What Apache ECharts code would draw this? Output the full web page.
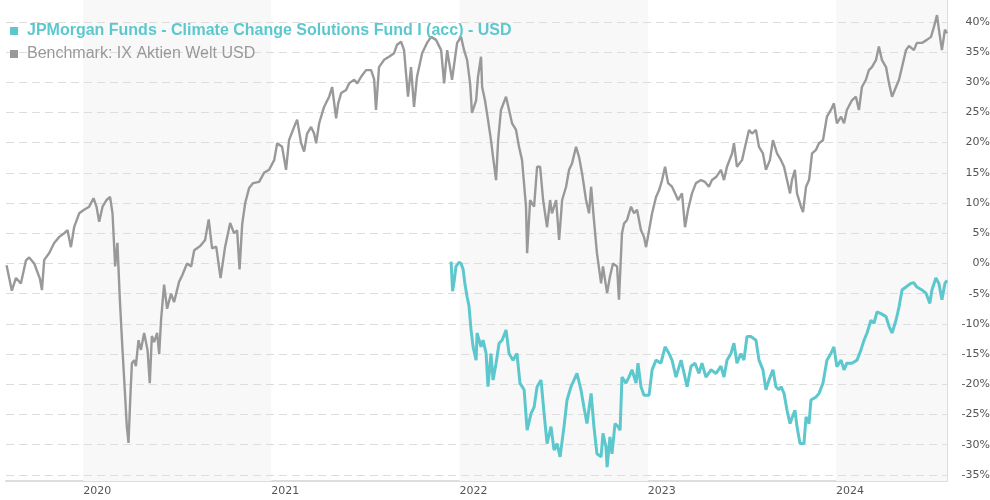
<!DOCTYPE html>
<html><head><meta charset="utf-8">
<script src="https://cdn.jsdelivr.net/npm/echarts@6/dist/echarts.min.js"></script>
<style>html,body{margin:0;padding:0;background:#fff}#c{width:990px;height:500px}</style>
</head><body><div id="c"></div><script>
const fundName = 'JPMorgan Funds - Climate Change Solutions Fund I (acc) - USD';
const benchName = 'Benchmark: IX Aktien Welt USD';

// time as decimal years, values in %
const benchTime = [2019.593,2019.621,2019.643,2019.669,2019.696,2019.713,2019.740,2019.770,2019.781,2019.793,2019.819,2019.846,2019.873,2019.899,2019.917,2019.935,2019.952,2019.979,2020.005,2020.032,2020.055,2020.071,2020.085,2020.103,2020.124,2020.143,2020.156,2020.170,2020.182,2020.195,2020.209,2020.222,2020.232,2020.241,2020.250,2020.259,2020.271,2020.280,2020.294,2020.307,2020.324,2020.342,2020.354,2020.365,2020.377,2020.393,2020.404,2020.414,2020.430,2020.446,2020.467,2020.483,2020.510,2020.526,2020.552,2020.574,2020.590,2020.622,2020.648,2020.667,2020.685,2020.707,2020.730,2020.754,2020.781,2020.802,2020.818,2020.831,2020.845,2020.861,2020.882,2020.903,2020.935,2020.961,2020.988,2021.015,2021.031,2021.057,2021.078,2021.094,2021.121,2021.137,2021.158,2021.174,2021.190,2021.211,2021.227,2021.238,2021.254,2021.280,2021.307,2021.323,2021.344,2021.355,2021.371,2021.397,2021.413,2021.440,2021.456,2021.477,2021.503,2021.530,2021.546,2021.556,2021.572,2021.599,2021.625,2021.652,2021.668,2021.689,2021.705,2021.726,2021.742,2021.758,2021.774,2021.801,2021.827,2021.849,2021.875,2021.902,2021.918,2021.934,2021.960,2021.987,2022.008,2022.024,2022.040,2022.056,2022.066,2022.088,2022.098,2022.114,2022.120,2022.135,2022.151,2022.167,2022.178,2022.194,2022.205,2022.220,2022.247,2022.263,2022.279,2022.300,2022.316,2022.332,2022.353,2022.359,2022.375,2022.396,2022.412,2022.428,2022.444,2022.465,2022.481,2022.491,2022.513,2022.529,2022.545,2022.566,2022.582,2022.598,2022.619,2022.635,2022.651,2022.672,2022.688,2022.699,2022.714,2022.730,2022.752,2022.762,2022.784,2022.799,2022.815,2022.837,2022.847,2022.863,2022.874,2022.890,2022.911,2022.927,2022.943,2022.964,2022.980,2022.991,2023.007,2023.023,2023.044,2023.060,2023.076,2023.092,2023.108,2023.129,2023.145,2023.161,2023.182,2023.198,2023.214,2023.235,2023.256,2023.283,2023.304,2023.325,2023.341,2023.363,2023.389,2023.405,2023.421,2023.448,2023.458,2023.474,2023.501,2023.517,2023.538,2023.554,2023.575,2023.591,2023.612,2023.628,2023.649,2023.665,2023.687,2023.708,2023.724,2023.740,2023.756,2023.766,2023.782,2023.793,2023.814,2023.825,2023.841,2023.857,2023.873,2023.894,2023.910,2023.931,2023.952,2023.973,2023.989,2024.005,2024.027,2024.043,2024.058,2024.085,2024.106,2024.122,2024.138,2024.159,2024.175,2024.191,2024.213,2024.228,2024.244,2024.266,2024.282,2024.298,2024.319,2024.335,2024.351,2024.372,2024.388,2024.414,2024.430,2024.457,2024.483,2024.505,2024.521,2024.537,2024.547,2024.563,2024.579,2024.590];
const benchValue = [-0.3,-4.5,-2.4,-3.3,0.5,1.0,0,-2.5,-4.4,0.6,1.7,3.4,4.4,5.0,5.5,2.7,6.0,8.3,8.9,9.4,10.8,9.4,6.9,9.4,10.5,11.0,8.3,-0.5,3.4,-6,-14.3,-21.4,-27,-29.7,-22.6,-16.5,-16,-17,-12.7,-14.3,-11.5,-14.3,-19.8,-12,-13,-11.5,-15,-9.3,-3.5,-7.5,-5,-6.4,-3,-2,0,-0.5,2.2,2.9,3.9,7.3,2.5,2.8,-2.4,2.7,6.7,5,5.5,-1,6.5,10,12.5,13.3,13.5,15,15.5,17.1,19.9,19.3,15.5,20.4,22.6,23.8,19.9,18.5,21.5,22.6,21.5,19.9,23.2,25.9,27.6,29.2,24,26.5,28.2,28.7,29.8,30.4,29.8,30.9,32,32,30.5,25.4,32.5,33.7,34.2,34.8,36.2,36.7,35.3,27.6,32.5,25.9,30.9,34.8,36.5,37.5,37,35.3,29.8,35.3,30.4,36.5,37.5,35.3,33.7,29.8,24.9,27,30.9,34.2,29.2,27,23.8,20.4,17.6,13.8,20.4,25.4,27.6,25.4,23.2,22.1,19.3,17.1,9.4,1.7,10.5,9.4,16,16,10.5,6,10.5,8.3,10.5,3.9,10.5,12.7,15.5,16.6,19.3,17.6,14.9,10.5,8.3,12.7,7.2,1.7,-3.3,-0.5,-4.9,-2.2,0,-0.5,-6,5,6.6,7.2,9.4,8.3,8.9,5.5,4.4,2.7,5.5,8.3,11,12.1,13.8,16,13.3,12.7,11.6,10.5,11.6,6,8.9,11.6,13.3,13.8,13.5,12.7,13.8,14.3,15.5,13.8,16,18.2,19.9,16,17.1,19.3,22.1,21.5,22.1,19.3,18.2,15.5,17.1,20.4,18.2,17.1,16,13.8,11.6,13.8,15.5,11.6,9.4,8.5,12.7,13.8,18.2,18.8,19.9,20.4,24.3,25.4,26.5,23.2,24.3,23.2,25.4,27,27.6,25.4,29.2,30.4,32,32.5,33.7,35.9,33.7,32.5,29.8,27.6,29.2,30.4,32.5,35.3,36,35.3,36.5,36.5,37,37.5,39.2,41.1,38.7,35.3,38.7,38.1];

const fundTime = [2021.955,2021.963,2021.971,2021.981,2021.997,2022.008,2022.019,2022.029,2022.040,2022.050,2022.061,2022.072,2022.088,2022.093,2022.114,2022.125,2022.141,2022.151,2022.167,2022.178,2022.194,2022.210,2022.226,2022.247,2022.263,2022.284,2022.305,2022.321,2022.343,2022.359,2022.380,2022.396,2022.412,2022.433,2022.449,2022.465,2022.486,2022.502,2022.518,2022.534,2022.555,2022.571,2022.592,2022.608,2022.624,2022.645,2022.661,2022.677,2022.699,2022.714,2022.730,2022.752,2022.762,2022.778,2022.784,2022.799,2022.810,2022.826,2022.842,2022.853,2022.863,2022.884,2022.900,2022.916,2022.938,2022.948,2022.964,2022.980,2023.007,2023.023,2023.044,2023.070,2023.092,2023.113,2023.129,2023.150,2023.177,2023.193,2023.209,2023.230,2023.251,2023.272,2023.288,2023.309,2023.336,2023.363,2023.389,2023.405,2023.421,2023.442,2023.458,2023.474,2023.495,2023.511,2023.527,2023.548,2023.575,2023.591,2023.612,2023.628,2023.644,2023.665,2023.681,2023.697,2023.708,2023.724,2023.740,2023.756,2023.766,2023.782,2023.793,2023.809,2023.830,2023.841,2023.857,2023.867,2023.894,2023.910,2023.931,2023.952,2023.973,2023.989,2024.005,2024.027,2024.043,2024.058,2024.085,2024.112,2024.133,2024.149,2024.165,2024.186,2024.202,2024.218,2024.239,2024.266,2024.282,2024.298,2024.319,2024.335,2024.351,2024.372,2024.398,2024.414,2024.430,2024.457,2024.478,2024.499,2024.510,2024.531,2024.547,2024.563,2024.579,2024.590];
const fundValue = [0.3,-4.6,-3,-0.5,0.2,0,-1,-3.5,-5.5,-7,-11,-13.8,-16,-11.5,-13.8,-12.7,-14.9,-20.4,-14.9,-19.3,-16.5,-13.2,-12.7,-11,-14.9,-16,-14.9,-19.8,-20.9,-27.6,-24.8,-23.8,-20.4,-19.3,-24.8,-29.8,-27,-30.9,-29.8,-32,-27,-22.6,-20.4,-19.3,-18.2,-20.9,-23.8,-26.5,-21.5,-27,-31.5,-32,-28.1,-30.4,-33.7,-28.7,-31.5,-26.5,-27,-27.6,-18.8,-19.8,-18.8,-17.6,-19.8,-16.5,-20.4,-21.8,-21.8,-17.6,-16,-16.5,-13.8,-14.9,-16,-18.8,-16,-18.2,-20.4,-17,-16.5,-18.2,-16.5,-18.8,-17.6,-18.2,-17,-18.8,-16,-14.9,-13.2,-16.5,-14.9,-16,-12.1,-12.1,-12.7,-16,-17.6,-20.9,-19.3,-17.6,-20.4,-20.9,-20.4,-21.5,-24.3,-26.5,-25.6,-24.3,-27,-29.8,-29.8,-25.4,-26.5,-22.6,-22.1,-21.5,-19.8,-16,-14.9,-13.8,-17.1,-16,-17.6,-16.5,-16.5,-16,-14.3,-12.7,-11.5,-9.4,-9.9,-8,-8.3,-8.8,-10.4,-11.5,-9.4,-7.2,-4.4,-3.9,-3.3,-3.2,-3.9,-4.4,-4.9,-6.6,-4.4,-2.4,-3.3,-6,-3.3,-2.8];

const yTicks = [-35,-30,-25,-20,-15,-10,-5,0,5,10,15,20,25,30,35,40];
const yearTicks = [2020,2021,2022,2023,2024];
const shadedYears = [[2020,2021],[2022,2023],[2024,2024.59]];
const xRange = [2019.59, 2024.59];
const yRange = [-36, 43.6];

const benchData = benchTime.map((t,i)=>[t, benchValue[i]]);
const fundData = fundTime.map((t,i)=>[t, fundValue[i]]);

const teal = '#5cc8ce';
const grey = '#999999';
const chart = echarts.init(document.getElementById('c'), null, {renderer:'canvas'});
chart.setOption({
  animation:false,
  backgroundColor:'#fff',
  grid:{left:6,right:43,top:0,bottom:19,containLabel:false,outerBoundsMode:'none'},
  legend:{
    orient:'vertical', left:5, top:17, itemWidth:8, itemHeight:8, itemGap:5, icon:'rect',
    selectedMode:false,
    textStyle:{fontFamily:'"Liberation Sans", Arial, sans-serif', fontSize:16, lineHeight:18, padding:[0,0,0,4]},
    data:[
      {name:fundName, textStyle:{color:teal, fontWeight:'bold'}},
      {name:benchName, textStyle:{color:grey}}
    ]
  },
  xAxis:{
    type:'value',
    min:xRange[0], max:xRange[1],
    axisLine:{show:true, onZero:false, lineStyle:{color:'#dddddd', width:2}},
    axisTick:{show:false},
    splitLine:{show:false},
    axisLabel:{
      customValues: yearTicks,
      formatter: v => String(Math.round(v)),
      align:'left', margin:5,
      color:'#555', fontFamily:'"DejaVu Sans", Verdana, sans-serif', fontSize:11
    }
  },
  yAxis:{
    type:'value', position:'right',
    min:yRange[0], max:yRange[1],
    axisLine:{show:true, lineStyle:{color:'#dddddd', width:1}},
    axisTick:{show:false},
    splitLine:{show:false},
    axisLabel:{
      customValues: yTicks,
      formatter: v => v + '%',
      align:'right', margin:43,
      color:'#555', fontFamily:'"DejaVu Sans", Verdana, sans-serif', fontSize:11
    }
  },
  series:[
    {
      name:benchName, type:'line', data:benchData, z:3,
      showSymbol:false, symbol:'none', color:grey,
      lineStyle:{width:2.4, color:grey},
      markArea:{
        silent:true, z:1,
        itemStyle:{color:'#f8f8f8'},
        data: shadedYears.map(r => [{xAxis:r[0]},{xAxis:r[1]}])
      },
      markLine:{
        silent:true, z:2, symbol:['none','none'], label:{show:false},
        lineStyle:{color:'#dddddd', width:1, type:[8,5]},
        emphasis:{disabled:true},
        data: yTicks.map(v => ({yAxis:v}))
      }
    },
    {
      name:fundName, type:'line', data:fundData, z:4,
      showSymbol:false, symbol:'none', color:teal,
      lineStyle:{width:3, color:teal}
    }
  ]
});
</script></body></html>
